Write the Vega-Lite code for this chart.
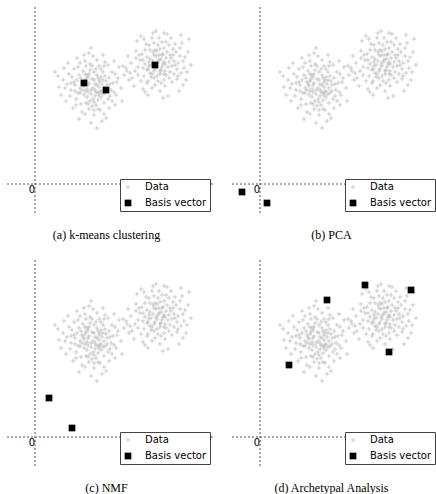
{
"$schema":"https://vega.github.io/schema/vega-lite/v6.json",
"padding":{"left":5,"top":6,"right":0,"bottom":0},
"config":{"view":{"stroke":null},"title":{"font":"Liberation Serif","fontSize":12,"fontWeight":"normal","color":"black","orient":"bottom","offset":15},
"legend":{"title":null,"orient":"bottom-right","offset":3,"padding":3,"strokeColor":"#444","fillColor":"white","labelFont":"DejaVu Sans","labelFontSize":10,"labelColor":"black","rowPadding":6,"labelOffset":12,"symbolOffset":0}},
"columns":2,
"spacing":{"row":18,"column":16},
"resolve":{"scale":{"color":"independent","shape":"independent","size":"independent"},"legend":{"color":"independent","shape":"independent","size":"independent"}},
"datasets":{
"pts":[
{"x":5.8,"y":9.6},{"x":6.1,"y":9.2},{"x":5.4,"y":10.1},{"x":6.5,"y":10.4},{"x":4.9,"y":9.8},{"x":5.2,"y":8.7},{"x":6.8,"y":9.0},{"x":7.2,"y":9.9},{"x":4.6,"y":10.6},{"x":5.9,"y":11.2},
{"x":6.3,"y":8.4},{"x":5.0,"y":9.3},{"x":4.3,"y":9.1},{"x":7.0,"y":10.8},{"x":6.6,"y":11.5},{"x":5.5,"y":12.0},{"x":4.8,"y":11.3},{"x":3.9,"y":10.2},{"x":3.6,"y":9.4},{"x":4.1,"y":8.5},
{"x":5.7,"y":7.8},{"x":6.9,"y":8.1},{"x":7.5,"y":8.8},{"x":7.8,"y":10.1},{"x":5.3,"y":10.7},{"x":6.0,"y":10.0},{"x":5.6,"y":9.0},{"x":6.4,"y":9.7},{"x":4.5,"y":9.6},{"x":5.1,"y":11.8},
{"x":6.2,"y":12.4},{"x":7.3,"y":11.9},{"x":3.4,"y":11.0},{"x":2.8,"y":10.4},{"x":2.4,"y":9.7},{"x":3.1,"y":8.3},{"x":3.8,"y":7.6},{"x":4.7,"y":7.2},{"x":5.9,"y":6.9},{"x":6.5,"y":7.4},
{"x":7.4,"y":7.6},{"x":8.1,"y":8.9},{"x":8.3,"y":10.6},{"x":7.9,"y":12.3},{"x":6.8,"y":12.9},{"x":5.4,"y":13.1},{"x":4.2,"y":12.6},{"x":3.3,"y":12.1},{"x":2.0,"y":11.2},{"x":2.6,"y":8.9},
{"x":4.4,"y":6.5},{"x":5.6,"y":6.1},{"x":6.2,"y":5.6},{"x":7.1,"y":6.6},{"x":8.0,"y":7.9},{"x":8.6,"y":9.6},{"x":5.0,"y":10.3},{"x":5.3,"y":9.9},{"x":6.7,"y":10.0},{"x":6.0,"y":8.8},
{"x":4.9,"y":8.9},{"x":7.6,"y":9.4},{"x":6.2,"y":10.9},{"x":5.7,"y":10.5},{"x":4.4,"y":10.9},{"x":6.9,"y":9.6},{"x":5.5,"y":8.3},{"x":4.0,"y":9.9},{"x":7.1,"y":10.3},{"x":5.8,"y":12.8},
{"x":6.0,"y":9.4},{"x":5.2,"y":9.5},{"x":6.6,"y":8.7},{"x":3.7,"y":10.7},{"x":4.6,"y":8.0},{"x":7.7,"y":11.2},{"x":6.4,"y":11.8},{"x":5.0,"y":12.3},{"x":3.0,"y":9.6},{"x":8.4,"y":11.7},
{"x":5.9,"y":7.4},{"x":6.7,"y":6.3},{"x":4.1,"y":7.9},{"x":2.9,"y":11.6},{"x":4.8,"y":10.0},{"x":6.3,"y":9.1},{"x":5.5,"y":11.4},{"x":7.4,"y":10.6},{"x":6.1,"y":7.9},{"x":5.1,"y":8.1},
{"x":3.5,"y":8.8},{"x":8.7,"y":8.3},{"x":7.9,"y":9.2},{"x":4.3,"y":11.7},{"x":6.8,"y":11.2},{"x":5.9,"y":10.4},{"x":5.2,"y":10.9},{"x":6.4,"y":10.2},{"x":7.3,"y":8.5},{"x":4.7,"y":9.4},
{"x":3.2,"y":10.0},{"x":5.6,"y":13.6},{"x":2.3,"y":10.8},{"x":4.9,"y":12.9},{"x":7.0,"y":12.2},{"x":8.2,"y":10.2},{"x":6.6,"y":9.3},{"x":5.4,"y":7.5},{"x":4.5,"y":12.1},{"x":6.9,"y":7.0},
{"x":3.9,"y":11.5},{"x":7.2,"y":9.3},{"x":5.8,"y":8.5},{"x":6.3,"y":10.6},{"x":5.0,"y":7.0},{"x":8.9,"y":10.9},{"x":9.2,"y":11.3},{"x":9.4,"y":10.4},{"x":8.8,"y":11.8},
{"x":5.6,"y":9.4},{"x":6.2,"y":9.9},{"x":5.1,"y":10.5},{"x":6.6,"y":10.7},{"x":5.3,"y":9.2},{"x":6.4,"y":8.9},{"x":4.7,"y":10.2},{"x":5.9,"y":8.2},{"x":6.8,"y":10.4},{"x":5.4,"y":11.0},
{"x":4.5,"y":9.1},{"x":7.0,"y":9.1},{"x":6.1,"y":11.5},{"x":5.0,"y":11.0},{"x":6.5,"y":9.2},{"x":4.2,"y":10.4},{"x":7.5,"y":10.0},{"x":5.7,"y":11.8},{"x":6.9,"y":11.8},{"x":4.0,"y":9.3},
{"x":5.3,"y":8.0},{"x":7.7,"y":8.3},{"x":3.6,"y":10.1},{"x":6.3,"y":7.5},{"x":8.0,"y":11.0},
{"x":12.2,"y":11.8},{"x":11.8,"y":12.3},{"x":12.6,"y":11.4},{"x":11.5,"y":11.1},{"x":12.9,"y":12.2},{"x":13.3,"y":11.7},{"x":11.2,"y":12.7},{"x":12.4,"y":12.9},{"x":13.1,"y":10.9},{"x":11.9,"y":10.6},
{"x":10.8,"y":11.6},{"x":12.0,"y":13.4},{"x":13.6,"y":12.6},{"x":14.0,"y":11.9},{"x":10.5,"y":12.4},{"x":11.4,"y":13.9},{"x":12.7,"y":14.2},{"x":13.8,"y":13.5},{"x":14.5,"y":12.8},{"x":14.9,"y":11.6},
{"x":14.2,"y":10.5},{"x":13.0,"y":9.8},{"x":11.7,"y":9.6},{"x":10.6,"y":10.3},{"x":10.0,"y":11.3},{"x":9.6,"y":12.1},{"x":10.1,"y":13.3},{"x":10.9,"y":14.5},{"x":11.8,"y":15.1},{"x":13.2,"y":15.0},
{"x":14.7,"y":14.1},{"x":15.3,"y":13.2},{"x":15.6,"y":11.9},{"x":15.1,"y":10.4},{"x":14.4,"y":9.3},{"x":12.8,"y":8.6},{"x":11.3,"y":8.9},{"x":9.9,"y":9.8},{"x":12.3,"y":12.2},{"x":12.5,"y":11.0},
{"x":11.6,"y":11.9},{"x":13.5,"y":11.2},{"x":12.1,"y":12.8},{"x":11.0,"y":12.0},{"x":13.9,"y":12.3},{"x":12.8,"y":13.0},{"x":11.9,"y":11.3},{"x":12.6,"y":12.5},{"x":10.7,"y":13.0},{"x":13.4,"y":13.9},
{"x":11.3,"y":10.3},{"x":12.0,"y":9.9},{"x":14.6,"y":11.1},{"x":13.7,"y":10.2},{"x":10.3,"y":11.7},{"x":11.1,"y":14.0},{"x":12.4,"y":14.6},{"x":14.1,"y":13.2},{"x":9.3,"y":12.8},{"x":15.0,"y":12.7},
{"x":12.9,"y":10.4},{"x":11.5,"y":12.5},{"x":12.2,"y":10.8},{"x":13.1,"y":12.6},{"x":10.9,"y":10.8},{"x":14.3,"y":12.1},{"x":12.7,"y":11.7},{"x":11.8,"y":13.2},{"x":13.6,"y":14.6},{"x":15.4,"y":14.5},
{"x":10.2,"y":14.3},{"x":9.1,"y":11.6},{"x":12.5,"y":9.3},{"x":11.0,"y":9.2},{"x":14.8,"y":9.9},{"x":13.3,"y":8.8},{"x":11.7,"y":14.6},{"x":12.9,"y":13.6},{"x":10.4,"y":12.9},{"x":13.9,"y":11.0},
{"x":12.0,"y":11.5},{"x":11.3,"y":11.5},{"x":13.2,"y":13.2},{"x":14.5,"y":13.6},{"x":11.6,"y":10.7},{"x":12.3,"y":13.9},{"x":10.6,"y":14.8},{"x":12.1,"y":15.3},{"x":13.0,"y":11.3},{"x":11.4,"y":12.2},
{"x":14.0,"y":14.0},{"x":9.7,"y":10.6},{"x":12.6,"y":10.1},{"x":15.2,"y":11.2},{"x":10.8,"y":9.5},{"x":13.5,"y":12.9},{"x":11.9,"y":14.1},{"x":12.8,"y":12.0},{"x":14.3,"y":10.8},{"x":10.1,"y":12.6},
{"x":11.2,"y":11.4},{"x":13.7,"y":11.8},{"x":12.4,"y":12.4},
{"x":12.1,"y":12.0},{"x":12.7,"y":12.9},{"x":11.4,"y":11.8},{"x":13.4,"y":12.2},{"x":11.9,"y":12.9},{"x":12.5,"y":11.3},{"x":13.0,"y":12.0},{"x":11.7,"y":11.0},{"x":12.9,"y":11.0},{"x":12.2,"y":13.3},
{"x":13.8,"y":12.9},{"x":11.0,"y":13.4},{"x":12.5,"y":13.5},{"x":14.2,"y":11.5},{"x":11.5,"y":13.4},{"x":12.3,"y":10.3},{"x":13.4,"y":10.6},{"x":10.8,"y":12.4},{"x":13.1,"y":14.2},{"x":14.8,"y":12.3},
{"x":11.2,"y":10.1},{"x":10.3,"y":10.9},{"x":12.9,"y":15.1},{"x":14.6,"y":14.9},{"x":9.5,"y":11.1}
],
"ba":[{"x":4.9,"y":10.1},{"x":7.1,"y":9.4},{"x":12.0,"y":11.9}],
"bb":[{"x":-1.8,"y":-0.8},{"x":0.7,"y":-1.9}],
"bc":[{"x":1.4,"y":3.9},{"x":3.7,"y":0.9}],
"bd":[{"x":2.9,"y":7.2},{"x":6.7,"y":13.7},{"x":10.5,"y":15.2},{"x":15.1,"y":14.7},{"x":12.9,"y":8.5}]
},
"concat":[
{"width":207,"height":207,"title":{"text":"(a) k-means clustering","dx":-3},
"layer":[
{"data":{"values":[{}]},"mark":{"type":"rule","strokeDash":[2,2],"color":"#555","strokeWidth":1},"encoding":{"x":{"datum":0,"type":"quantitative","scale":{"domain":[-2.9,17.8],"nice":false,"zero":false},"axis":null}}},
{"data":{"values":[{}]},"mark":{"type":"rule","strokeDash":[2,2],"color":"#555","strokeWidth":1},"encoding":{"y":{"datum":0,"type":"quantitative","scale":{"domain":[-3.0,17.7],"nice":false,"zero":false},"axis":null}}},
{"data":{"name":"pts"},"mark":{"type":"point","filled":true,"opacity":1},"encoding":{"x":{"field":"x","type":"quantitative","axis":null},"y":{"field":"y","type":"quantitative","axis":null},
"color":{"datum":"Data","type":"nominal","scale":{"domain":["Data","Basis vector"],"range":["#a8a8a8","black"]}},
"shape":{"datum":"Data","type":"nominal","scale":{"domain":["Data","Basis vector"],"range":["M-1,-0.12H1V0.12H-1Z M-0.12,-1H0.12V1H-0.12Z","square"]}},
"size":{"datum":"Data","type":"nominal","scale":{"domain":["Data","Basis vector"],"range":[22,45]}}}},
{"data":{"name":"ba"},"mark":{"type":"point","filled":true,"opacity":1},"encoding":{"x":{"field":"x","type":"quantitative","axis":null},"y":{"field":"y","type":"quantitative","axis":null},
"color":{"datum":"Basis vector","type":"nominal"},"shape":{"datum":"Basis vector","type":"nominal"},"size":{"datum":"Basis vector","type":"nominal"}}},
{"data":{"values":[{}]},"mark":{"type":"text","align":"right","baseline":"top","dx":0,"dy":1,"fontSize":10,"font":"DejaVu Sans","color":"black"},"encoding":{"x":{"datum":0,"type":"quantitative"},"y":{"datum":0,"type":"quantitative"},"text":{"value":"0"}}}
]},
{"width":207,"height":207,"title":{"text":"(b) PCA","dx":-3},
"layer":[
{"data":{"values":[{}]},"mark":{"type":"rule","strokeDash":[2,2],"color":"#555","strokeWidth":1},"encoding":{"x":{"datum":0,"type":"quantitative","scale":{"domain":[-2.9,17.8],"nice":false,"zero":false},"axis":null}}},
{"data":{"values":[{}]},"mark":{"type":"rule","strokeDash":[2,2],"color":"#555","strokeWidth":1},"encoding":{"y":{"datum":0,"type":"quantitative","scale":{"domain":[-3.0,17.7],"nice":false,"zero":false},"axis":null}}},
{"data":{"name":"pts"},"mark":{"type":"point","filled":true,"opacity":1},"encoding":{"x":{"field":"x","type":"quantitative","axis":null},"y":{"field":"y","type":"quantitative","axis":null},
"color":{"datum":"Data","type":"nominal","scale":{"domain":["Data","Basis vector"],"range":["#a8a8a8","black"]}},
"shape":{"datum":"Data","type":"nominal","scale":{"domain":["Data","Basis vector"],"range":["M-1,-0.12H1V0.12H-1Z M-0.12,-1H0.12V1H-0.12Z","square"]}},
"size":{"datum":"Data","type":"nominal","scale":{"domain":["Data","Basis vector"],"range":[22,45]}}}},
{"data":{"name":"bb"},"mark":{"type":"point","filled":true,"opacity":1},"encoding":{"x":{"field":"x","type":"quantitative","axis":null},"y":{"field":"y","type":"quantitative","axis":null},
"color":{"datum":"Basis vector","type":"nominal"},"shape":{"datum":"Basis vector","type":"nominal"},"size":{"datum":"Basis vector","type":"nominal"}}},
{"data":{"values":[{}]},"mark":{"type":"text","align":"right","baseline":"top","dx":0,"dy":1,"fontSize":10,"font":"DejaVu Sans","color":"black"},"encoding":{"x":{"datum":0,"type":"quantitative"},"y":{"datum":0,"type":"quantitative"},"text":{"value":"0"}}}
]},
{"width":207,"height":207,"title":{"text":"(c) NMF","dx":-3},
"layer":[
{"data":{"values":[{}]},"mark":{"type":"rule","strokeDash":[2,2],"color":"#555","strokeWidth":1},"encoding":{"x":{"datum":0,"type":"quantitative","scale":{"domain":[-2.9,17.8],"nice":false,"zero":false},"axis":null}}},
{"data":{"values":[{}]},"mark":{"type":"rule","strokeDash":[2,2],"color":"#555","strokeWidth":1},"encoding":{"y":{"datum":0,"type":"quantitative","scale":{"domain":[-3.0,17.7],"nice":false,"zero":false},"axis":null}}},
{"data":{"name":"pts"},"mark":{"type":"point","filled":true,"opacity":1},"encoding":{"x":{"field":"x","type":"quantitative","axis":null},"y":{"field":"y","type":"quantitative","axis":null},
"color":{"datum":"Data","type":"nominal","scale":{"domain":["Data","Basis vector"],"range":["#a8a8a8","black"]}},
"shape":{"datum":"Data","type":"nominal","scale":{"domain":["Data","Basis vector"],"range":["M-1,-0.12H1V0.12H-1Z M-0.12,-1H0.12V1H-0.12Z","square"]}},
"size":{"datum":"Data","type":"nominal","scale":{"domain":["Data","Basis vector"],"range":[22,45]}}}},
{"data":{"name":"bc"},"mark":{"type":"point","filled":true,"opacity":1},"encoding":{"x":{"field":"x","type":"quantitative","axis":null},"y":{"field":"y","type":"quantitative","axis":null},
"color":{"datum":"Basis vector","type":"nominal"},"shape":{"datum":"Basis vector","type":"nominal"},"size":{"datum":"Basis vector","type":"nominal"}}},
{"data":{"values":[{}]},"mark":{"type":"text","align":"right","baseline":"top","dx":0,"dy":1,"fontSize":10,"font":"DejaVu Sans","color":"black"},"encoding":{"x":{"datum":0,"type":"quantitative"},"y":{"datum":0,"type":"quantitative"},"text":{"value":"0"}}}
]},
{"width":207,"height":207,"title":{"text":"(d) Archetypal Analysis","dx":-3},
"layer":[
{"data":{"values":[{}]},"mark":{"type":"rule","strokeDash":[2,2],"color":"#555","strokeWidth":1},"encoding":{"x":{"datum":0,"type":"quantitative","scale":{"domain":[-2.9,17.8],"nice":false,"zero":false},"axis":null}}},
{"data":{"values":[{}]},"mark":{"type":"rule","strokeDash":[2,2],"color":"#555","strokeWidth":1},"encoding":{"y":{"datum":0,"type":"quantitative","scale":{"domain":[-3.0,17.7],"nice":false,"zero":false},"axis":null}}},
{"data":{"name":"pts"},"mark":{"type":"point","filled":true,"opacity":1},"encoding":{"x":{"field":"x","type":"quantitative","axis":null},"y":{"field":"y","type":"quantitative","axis":null},
"color":{"datum":"Data","type":"nominal","scale":{"domain":["Data","Basis vector"],"range":["#a8a8a8","black"]}},
"shape":{"datum":"Data","type":"nominal","scale":{"domain":["Data","Basis vector"],"range":["M-1,-0.12H1V0.12H-1Z M-0.12,-1H0.12V1H-0.12Z","square"]}},
"size":{"datum":"Data","type":"nominal","scale":{"domain":["Data","Basis vector"],"range":[22,45]}}}},
{"data":{"name":"bd"},"mark":{"type":"point","filled":true,"opacity":1},"encoding":{"x":{"field":"x","type":"quantitative","axis":null},"y":{"field":"y","type":"quantitative","axis":null},
"color":{"datum":"Basis vector","type":"nominal"},"shape":{"datum":"Basis vector","type":"nominal"},"size":{"datum":"Basis vector","type":"nominal"}}},
{"data":{"values":[{}]},"mark":{"type":"text","align":"right","baseline":"top","dx":0,"dy":1,"fontSize":10,"font":"DejaVu Sans","color":"black"},"encoding":{"x":{"datum":0,"type":"quantitative"},"y":{"datum":0,"type":"quantitative"},"text":{"value":"0"}}}
]}
]
}
